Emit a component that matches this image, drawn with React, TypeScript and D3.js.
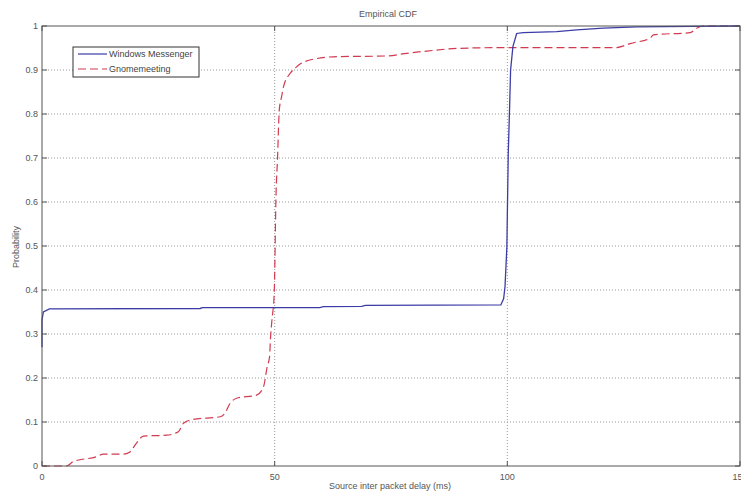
import React from "react";
import * as d3 from "d3";

const xTicks = [0, 50, 100, 150];
const yTicks = [0, 0.1, 0.2, 0.3, 0.4, 0.5, 0.6, 0.7, 0.8, 0.9, 1];
const yTickLabels = ["0", "0.1", "0.2", "0.3", "0.4", "0.5", "0.6", "0.7", "0.8", "0.9", "1"];

const msgrX = [0, 0, 0.3, 1.6, 34, 34.5, 59.7, 60.5, 68.7, 69.5, 98.6, 99.2, 99.5, 99.9, 100.2, 100.5, 100.7, 101.2, 102.0, 103.4, 110.6, 114.9, 120.6, 127.8, 140, 150];
const msgrY = [0.27, 0.332, 0.35, 0.357, 0.358, 0.36, 0.36, 0.362, 0.363, 0.365, 0.366, 0.38, 0.4075, 0.498, 0.71, 0.82, 0.9, 0.953, 0.983, 0.985, 0.987, 0.991, 0.995, 0.998, 0.999, 1.0];

const gnomeX = [0, 5.3, 6.7, 11.7, 13.2, 17.5, 18.9, 20.3, 21.8, 26.8, 29.3, 30.4, 32.5, 38.3, 39.3, 40.4, 41.8, 46.1, 47.6, 48.4, 48.9, 49.1, 49.4, 49.9, 50.3, 50.6, 51.0, 51.5, 51.9, 53.3, 54.7, 55.1, 59.0, 62.6, 74.1, 78.4, 82.7, 89.1, 99.9, 123.5, 125, 126.4, 130.7, 131.4, 139.3, 140.7, 142.1, 150];
const gnomeY = [0, 0, 0.01, 0.021, 0.027, 0.027, 0.032, 0.052, 0.068, 0.07, 0.078, 0.097, 0.106, 0.112, 0.12, 0.142, 0.154, 0.161, 0.18, 0.226, 0.248, 0.29, 0.33, 0.392, 0.62, 0.695, 0.81, 0.84, 0.862, 0.892, 0.907, 0.911, 0.926, 0.93, 0.932, 0.938, 0.943, 0.949, 0.951, 0.951, 0.955, 0.96, 0.9725, 0.98, 0.985, 0.995, 1.0, 1.0];

const seriesNames = ["Windows Messenger", "Gnomemeeting"];

export default function App() {
  const W = 741, H = 494;
  const L = 42, R = 740, T = 26, B = 466;
  const x = d3.scaleLinear().domain([0, 150]).range([L, R]);
  const y = d3.scaleLinear().domain([0, 1]).range([B, T]);
  const line = d3.line<[number, number]>().x(d => x(d[0])).y(d => y(d[1]));
  const smooth = d3.line<[number, number]>().x(d => x(d[0])).y(d => y(d[1])).curve(d3.curveMonotoneX);
  const msgr = line(msgrX.map((v, i) => [v, msgrY[i]] as [number, number]));
  const gnome = smooth(gnomeX.map((v, i) => [v, gnomeY[i]] as [number, number]));
  const font = "Liberation Sans, Arial, sans-serif";
  const tc = "#555";
  const blue = "#3c3ca6";
  const red = "#d23a50";
  return (
    <svg width={W} height={H} style={{ position: "absolute", left: 0, top: 0, background: "#fff" }} fontFamily={font}>
      <rect x={0} y={0} width={W} height={H} fill="#fff" />
      {xTicks.slice(1, 3).map(t => (
        <line key={"gx" + t} x1={x(t)} x2={x(t)} y1={T} y2={B} stroke="#999" strokeWidth={1} strokeDasharray="1,2" />
      ))}
      {yTicks.slice(1, 10).map(t => (
        <line key={"gy" + t} x1={L} x2={R} y1={y(t)} y2={y(t)} stroke="#999" strokeWidth={1} strokeDasharray="1,2" />
      ))}
      <path d={gnome || ""} fill="none" stroke={red} strokeWidth={1.2} strokeDasharray="8,4" />
      <path d={msgr || ""} fill="none" stroke={blue} strokeWidth={1.3} />
      <rect x={L} y={T} width={R - L} height={B - T} fill="none" stroke="#555" strokeWidth={1} />
      {xTicks.map(t => (
        <g key={"xt" + t}>
          <line x1={x(t)} x2={x(t)} y1={B} y2={B - 5} stroke="#555" />
          <line x1={x(t)} x2={x(t)} y1={T} y2={T + 5} stroke="#555" />
          <text x={x(t)} y={B + 14} textAnchor="middle" fontSize={9} fill={tc}>{t}</text>
        </g>
      ))}
      {yTicks.map((t, i) => (
        <g key={"yt" + t}>
          <line x1={L} x2={L + 5} y1={y(t)} y2={y(t)} stroke="#555" />
          <line x1={R} x2={R - 5} y1={y(t)} y2={y(t)} stroke="#555" />
          <text x={L - 4} y={y(t) + 3} textAnchor="end" fontSize={9} fill={tc}>{yTickLabels[i]}</text>
        </g>
      ))}
      <text x={388} y={17} textAnchor="middle" fontSize={9} fill={tc}>Empirical CDF</text>
      <text x={390} y={489} textAnchor="middle" fontSize={9} fill={tc}>Source inter packet delay (ms)</text>
      <text transform={`translate(19,247) rotate(-90)`} textAnchor="middle" fontSize={9} fill={tc}>Probability</text>
      <rect x={73} y={47} width={126} height={30} fill="#fff" stroke="#333" strokeWidth={1} />
      <line x1={78} x2={107} y1={54} y2={54} stroke={blue} strokeWidth={1.2} />
      <line x1={78} x2={107} y1={69} y2={69} stroke={red} strokeWidth={1.2} strokeDasharray="8,4" />
      <text x={109} y={57} fontSize={9} fill="#444">{seriesNames[0]}</text>
      <text x={109} y={72} fontSize={9} fill="#444">{seriesNames[1]}</text>
    </svg>
  );
}
